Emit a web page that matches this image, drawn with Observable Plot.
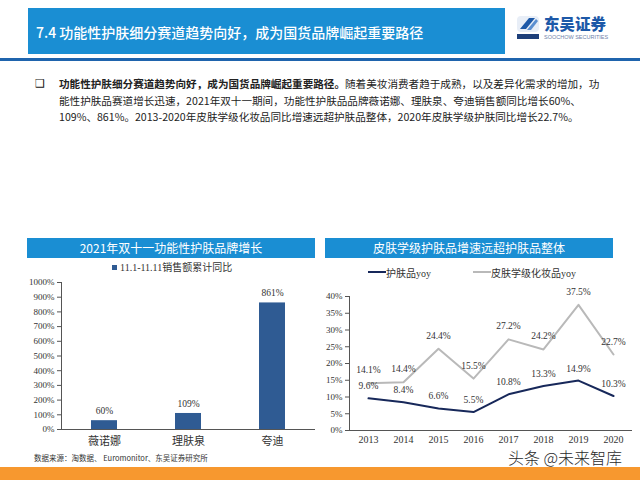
<!DOCTYPE html>
<html><head><meta charset="utf-8">
<script src="https://cdn.jsdelivr.net/npm/d3@7"></script>
<script src="https://cdn.jsdelivr.net/npm/@observablehq/plot@0.6"></script>
<style>
html,body{margin:0;padding:0;background:#fff;}
#page{position:relative;width:640px;height:480px;overflow:hidden;font-family:"Noto Sans CJK SC","Noto Sans",sans-serif;}
.abs{position:absolute;white-space:nowrap;}
.serif{font-family:"Liberation Serif","Noto Sans CJK SC",serif;}
</style></head>
<body><div id="page">
<div class="abs" style="left:28px;top:8px;width:477px;height:46px;background:#1a8ed3;"></div>
<div class="abs" style="left:36px;top:21px;font-size:14px;line-height:22px;color:#fff;font-weight:500;" id="headline"></div>
<div class="abs" style="left:0;top:58px;width:640px;height:2.5px;background:#1f64ad;"></div>
<svg class="abs" style="left:516px;top:15px" width="26" height="26" viewBox="0 0 26 26">
  <rect x="1" y="1" width="22" height="16" rx="4" fill="#e8eef7"/>
  <path d="M4 14 L13 3 L19 3 L10 14 Z" fill="#1d59a8"/>
  <path d="M11 15 L20 4 L22 6 L15 15 Z" fill="#5b8fd0"/>
  <rect x="1" y="19" width="22" height="5" fill="#1d3f7a"/>
</svg>
<div class="abs" id="logoName" style="left:544px;top:13px;font-size:15.5px;line-height:20px;font-weight:900;color:#1d59a8;"></div>
<div class="abs" id="logoSub" style="left:544px;top:34px;font-size:5.5px;line-height:7px;color:#6f83aa;font-family:'Liberation Sans',sans-serif;"></div>
<div class="abs" style="left:35px;top:76px;font-size:11px;line-height:16px;color:#111;font-family:'DejaVu Sans',sans-serif;">❑</div>
<div class="abs" id="bullet" style="left:59px;top:76px;font-size:10.6px;line-height:16.5px;color:#222;"></div>
<div class="abs" style="left:27px;top:238px;width:288px;height:20px;background:#1a8ed3;"></div>
<div class="abs" id="t1" style="left:27px;top:238px;width:288px;height:20px;line-height:20px;text-align:center;color:#fff;font-size:12px;"></div>
<div class="abs" style="left:325px;top:238px;width:288px;height:20px;background:#1a8ed3;"></div>
<div class="abs" id="t2" style="left:325px;top:238px;width:288px;height:20px;line-height:20px;text-align:center;color:#fff;font-size:12px;"></div>
<div class="abs serif" id="leg1" style="left:112px;top:261px;font-size:10px;line-height:14px;color:#333;"></div>
<div class="abs serif" id="leg2" style="left:368px;top:267px;font-size:10px;line-height:14px;color:#333;"></div>
<div class="abs" id="c1" style="left:0;top:270px;"></div>
<div class="abs" id="c2" style="left:320px;top:285px;"></div>
<div class="abs" id="src" style="left:34px;top:453px;font-size:7.5px;line-height:10px;color:#333;"></div>
<div class="abs" id="wm" style="left:508px;top:449px;font-size:16px;line-height:16px;color:#2a2a2a;font-weight:300;"></div>
<div class="abs" style="left:0;top:467px;width:640px;height:13px;background:#f7982f;"></div>
</div>
<script>
// ---- text content ----
const headline = "7.4 功能性护肤细分赛道趋势向好，成为国货品牌崛起重要路径";
const bulletBold = "功能性护肤细分赛道趋势向好，成为国货品牌崛起重要路径。";
const bulletLines = [
  "随着美妆消费者趋于成熟，以及差异化需求的增加，功",
  "能性护肤品赛道增长迅速，2021年双十一期间，功能性护肤品品牌薇诺娜、理肤泉、夸迪销售额同比增长60%、",
  "109%、861%。2013-2020年皮肤学级化妆品同比增速远超护肤品整体，2020年皮肤学级护肤同比增长22.7%。"
];
const title1 = "2021年双十一功能性护肤品牌增长";
const title2 = "皮肤学级护肤品增速远超护肤品整体";
const legend1 = "11.1-11.11销售额累计同比";
const series2Names = ["护肤品yoy", "皮肤学级化妆品yoy"];
const sourceText = "数据来源：淘数据、 Euromonitor、东吴证券研究所";
const watermark = "头条 @未来智库";

// ---- chart 1 data ----
const brands = ["薇诺娜", "理肤泉", "夸迪"];
const brandGrowth = [60, 109, 861];
const yTicks1 = [0,100,200,300,400,500,600,700,800,900,1000];

// ---- chart 2 data ----
const years = ["2013","2014","2015","2016","2017","2018","2019","2020"];
const skincareYoy = [9.6, 8.4, 6.6, 5.5, 10.8, 13.3, 14.9, 10.3];
const dermaYoy = [14.1, 14.4, 24.4, 15.5, 27.2, 24.2, 37.5, 22.7];
const yTicks2 = [0,5,10,15,20,25,30,35,40];

const barColor = "#2f5b93";
const navy = "#17285a";
const gray = "#b9b9b9";
const serif = "'Liberation Serif','Noto Sans CJK SC',serif";

document.getElementById("headline").textContent = headline;
document.getElementById("logoName").textContent = "东吴证券";
document.getElementById("logoSub").textContent = "SOOCHOW SECURITIES";
const b = document.getElementById("bullet");
const strong = document.createElement("b"); strong.textContent = bulletBold; strong.style.fontWeight = "700";
b.appendChild(strong);
b.appendChild(document.createTextNode(bulletLines[0]));
for (let i = 1; i < bulletLines.length; i++) { b.appendChild(document.createElement("br")); b.appendChild(document.createTextNode(bulletLines[i])); }
document.getElementById("t1").textContent = title1;
document.getElementById("t2").textContent = title2;
document.getElementById("leg1").innerHTML = `<span style="display:inline-block;width:5px;height:5px;background:${barColor};margin-right:3px;vertical-align:1px"></span>` + legend1;
document.getElementById("leg2").innerHTML =
  `<svg width="18" height="6" style="vertical-align:2px"><line x1="0" y1="3" x2="18" y2="3" stroke="${navy}" stroke-width="2"/></svg>${series2Names[0]}` +
  `<span style="display:inline-block;width:42px"></span>` +
  `<svg width="18" height="6" style="vertical-align:2px"><line x1="0" y1="3" x2="18" y2="3" stroke="${gray}" stroke-width="2"/></svg>${series2Names[1]}`;
document.getElementById("src").textContent = sourceText;
document.getElementById("wm").textContent = watermark;

// ---- chart 1 ----
const d1 = brands.map((k, i) => ({brand: k, v: brandGrowth[i]}));
const chart1 = Plot.plot({
  width: 320, height: 185,
  marginLeft: 61, marginRight: 5, marginTop: 12, marginBottom: 26,
  style: {fontFamily: serif, fontSize: "9px", color: "#333", background: "transparent"},
  x: {domain: brands, paddingInner: 0.685, paddingOuter: 0.3425, label: null},
  y: {domain: [0, 1000], label: null},
  marks: [
    Plot.barY(d1, {x: "brand", y: "v", fill: barColor}),
    Plot.text(d1, {x: "brand", y: "v", text: d => d.v + "%", dy: -10, fontSize: 9.5, fill: "#333"}),
    Plot.axisX({tickSize: 0, tickPadding: 8, fontSize: 11, fill: "#333"}),
    Plot.axisY({ticks: yTicks1, tickFormat: d => d + "%", tickSize: 4, tickPadding: 3, fontSize: 9, fill: "#333", stroke: "#555"}),
    Plot.ruleY([0], {stroke: "#555"}),
    Plot.frame({anchor: "left", stroke: "#555"})
  ]
});
document.getElementById("c1").appendChild(chart1);

// ---- chart 2 ----
const d2a = years.map((y, i) => ({year: y, v: skincareYoy[i]}));
const d2b = years.map((y, i) => ({year: y, v: dermaYoy[i]}));
const chart2 = Plot.plot({
  width: 320, height: 170,
  marginLeft: 29, marginRight: 8, marginTop: 11, marginBottom: 25,
  style: {fontFamily: serif, fontSize: "9px", color: "#333", background: "transparent"},
  x: {type: "point", domain: years, padding: 0.5, label: null},
  y: {domain: [0, 40], label: null},
  marks: [
    Plot.line(d2b, {x: "year", y: "v", stroke: gray, strokeWidth: 2}),
    Plot.line(d2a, {x: "year", y: "v", stroke: navy, strokeWidth: 2}),
    Plot.text(d2b, {x: "year", y: "v", text: d => d.v.toFixed(1) + "%", dy: -13, fontSize: 9.5, fill: "#333"}),
    Plot.text(d2a, {x: "year", y: "v", text: d => d.v.toFixed(1) + "%", dy: -12, fontSize: 9.5, fill: "#333"}),
    Plot.axisX({tickSize: 0, tickPadding: 5, fontSize: 10, fill: "#333"}),
    Plot.axisY({ticks: yTicks2, tickFormat: d => d + "%", tickSize: 4, tickPadding: 3, fontSize: 9, fill: "#333", stroke: "#555"}),
    Plot.ruleY([0], {stroke: "#555"}),
    Plot.frame({anchor: "left", stroke: "#555"})
  ]
});
document.getElementById("c2").appendChild(chart2);
</script>
</body></html>
